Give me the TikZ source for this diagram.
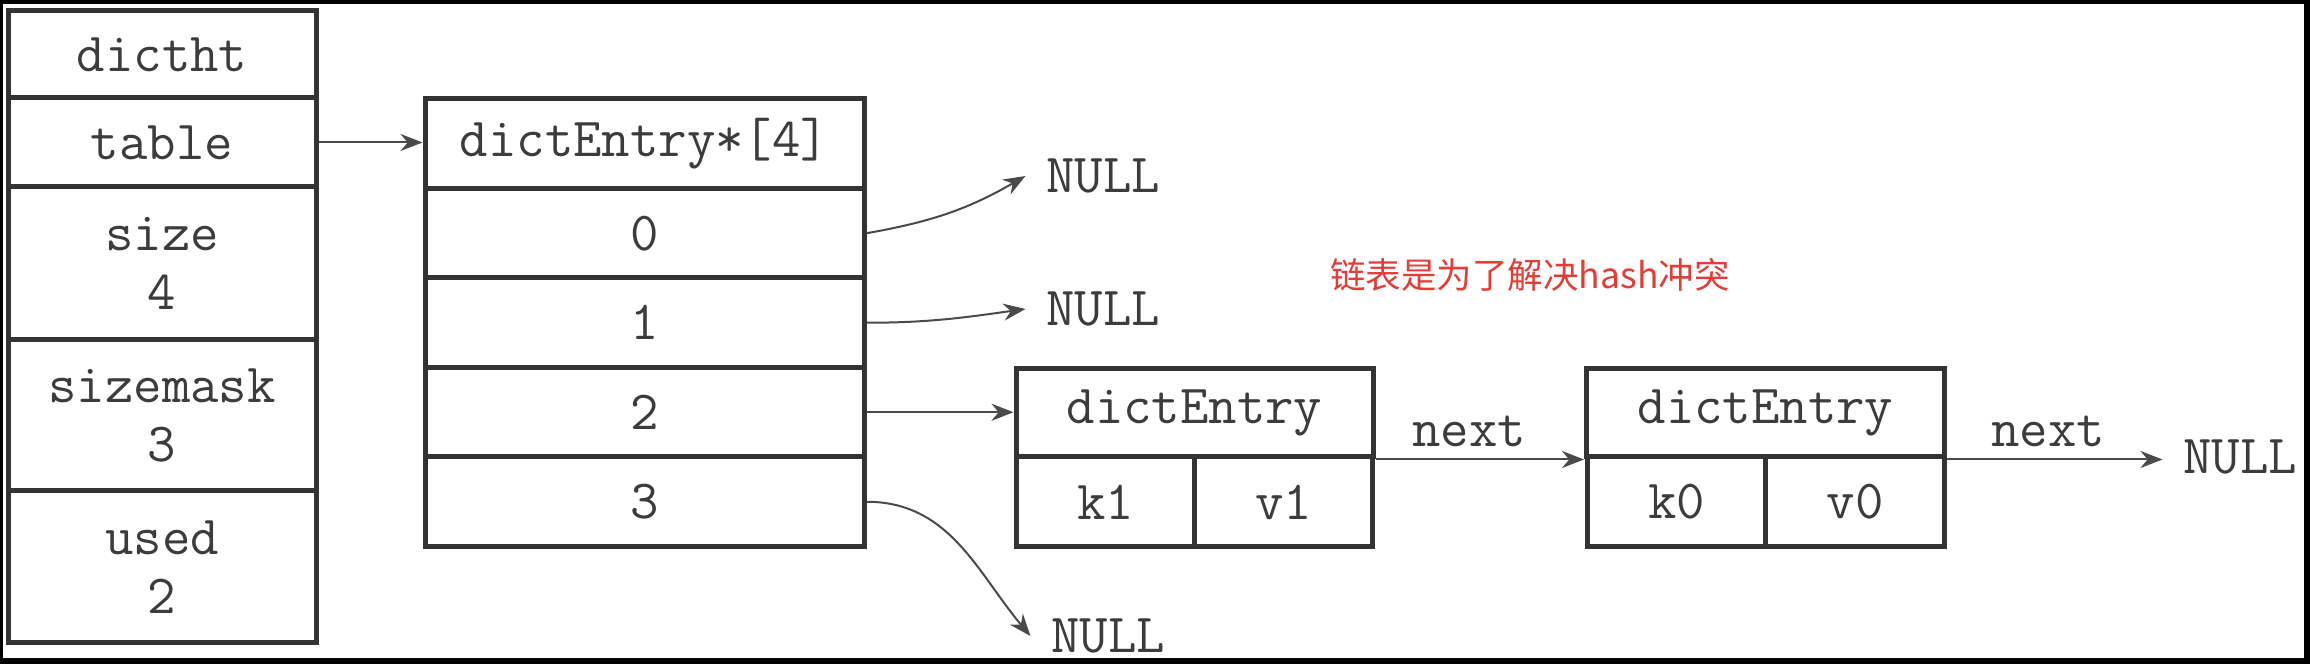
\documentclass[tikz,border=0pt]{standalone}
\usepackage{fontspec}
\newfontfamily\cjk{Noto Sans CJK SC}
\usepackage{tikz}
\usetikzlibrary{arrows.meta}

\definecolor{boxgray}{HTML}{333333}
\definecolor{txtgray}{HTML}{3C3C3C}
\definecolor{linegray}{HTML}{4A4A4A}
\definecolor{notered}{HTML}{E23D36}
\newcommand{\boxfont}{\fontsize{15.7pt}{16.8pt}\selectfont\ttfamily}

\begin{document}
\begin{tikzpicture}[x=0.1mm, y=-0.1mm, >={Stealth[length=2.2mm,width=1.7mm]},
        cell/.style={draw=boxgray, line width=0.5mm, inner sep=0pt, align=center, text=txtgray, font=\boxfont},
        field/.style={cell, minimum width=30.8mm},
        slot/.style={cell, minimum width=43.9mm, minimum height=8.95mm},
        half/.style={cell, minimum width=17.85mm, minimum height=9mm},
        nullword/.style={inner sep=2mm, text=txtgray, font=\boxfont},
        ptr/.style={->, draw=linegray, line width=0.2mm}]
            \fill[black] (0,0) rectangle (2310,664);
            \fill[white] (3,4) rectangle (2304,658);
            \useasboundingbox (0,0) rectangle (2310,664);

            % dictht
            \node[field, minimum height=8.7mm] (dictht) at (162,54.5) {dictht};
            \node[field, minimum height=8.9mm] (table) at (162,142.5) {table};
            \node[field, minimum height=15.3mm] (size) at (162,263.5) {size\\4};
            \node[field, minimum height=15.1mm] (sizemask) at (162,415.5) {sizemask\\3};
            \node[field, minimum height=15.2mm] (used) at (162,567) {used\\2};

            % bucket array
            \node[slot] (hdr) at (644.5,143.75) {dictEntry*[4]};
            \node[slot] (b0) at (644.5,233.25) {0};
            \node[slot] (b1) at (644.5,322.75) {1};
            \node[slot] (b2) at (644.5,412.25) {2};
            \node[slot] (b3) at (644.5,501.75) {3};

            % entries
            \node[cell, minimum width=35.7mm, minimum height=8.8mm] (e1) at (1194.5,413) {dictEntry};
            \node[half] (k1) at (1105.5,502) {k1};
            \node[half] (v1) at (1283.5,502) {v1};

            \node[cell, minimum width=35.8mm, minimum height=8.8mm] (e2) at (1765.5,413) {dictEntry};
            \node[half] (k0) at (1676.5,502) {k0};
            \node[half] (v0) at (1855,502) {v0};

            \node[nullword] (null0) at (1103,176) {NULL};
            \node[nullword] (null1) at (1103,309) {NULL};
            \node[nullword] (null3) at (1108,636) {NULL};
            \node[nullword] (null4) at (2240,457) {NULL};

            \node[text=notered, font=\cjk\fontsize{10.1pt}{12pt}\selectfont] (note) at (1530,275) {链表是为了解决hash冲突};

            % Connections: table to buckets
            \draw[ptr] (table.east) -- (table.east -| hdr.west);

            \draw[ptr] (b0.east) to[out=10,in=210] (null0.west);
            \draw[ptr] (b1.east) to[out=0,in=188] (null1.west);
            \draw[ptr] (b2.east) -- (b2.east -| e1.west);
            \draw[ptr] (b3.east) to[out=0,in=130] (null3.west);

            % Connections: next pointers
            \draw[ptr] (e1.south east) -- node[pos=0.45, above, text=txtgray, font=\boxfont] (nx1) {next} (e2.south west);
            \draw[ptr] (e2.south east) -- node[pos=0.47, above, text=txtgray, font=\boxfont] (nx2) {next} (e2.south east -| null4.west);
        \end{tikzpicture}
\end{document}
